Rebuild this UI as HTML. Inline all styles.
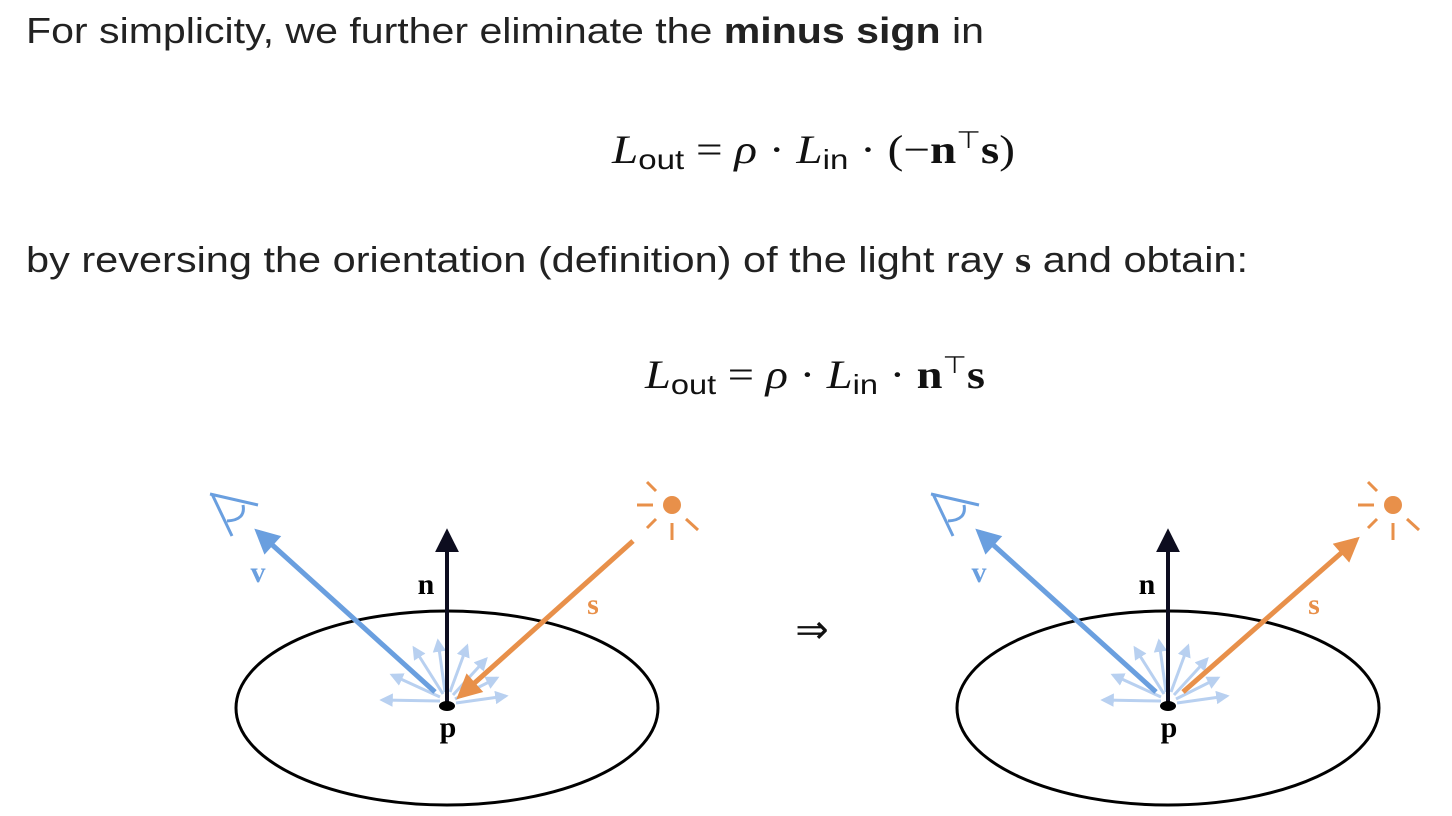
<!DOCTYPE html>
<html><head><meta charset="utf-8"><style>
html,body{margin:0;padding:0;background:#fff;}
svg{display:block;}
.t{font-family:"Liberation Sans",sans-serif;font-size:36px;fill:#222;}
.m{font-family:"Liberation Serif",serif;font-size:40px;fill:#111;}
.ms{font-family:"Liberation Sans",sans-serif;font-size:28px;fill:#111;}
.lb{font-family:"Liberation Serif",serif;font-weight:bold;font-size:30px;}
</style></head><body>
<svg width="1452" height="816" viewBox="0 0 1452 816">
<defs>
<marker id="ab" viewBox="0 0 10 10" refX="8" refY="5" markerWidth="5.5" markerHeight="5" orient="auto"><path d="M0,0 L10,5 L0,10 z" fill="#6a9fdf"/></marker>
<marker id="ao" viewBox="0 0 10 10" refX="8" refY="5" markerWidth="5.5" markerHeight="5" orient="auto"><path d="M0,0 L10,5 L0,10 z" fill="#e8904a"/></marker>
<marker id="ak" viewBox="0 0 10 10" refX="8" refY="5" markerWidth="6" markerHeight="6" orient="auto"><path d="M0,0 L10,5 L0,10 z" fill="#0d0d1f"/></marker>
<marker id="al" viewBox="0 0 10 10" refX="8" refY="5" markerWidth="4.5" markerHeight="4.5" orient="auto"><path d="M0,0 L10,5 L0,10 z" fill="#b8d0f0"/></marker>
</defs>
<text class="t" x="26" y="43" textLength="958" lengthAdjust="spacingAndGlyphs">For simplicity, we further eliminate the <tspan font-weight="bold">minus sign</tspan> in</text>
<g>
<text class="m" x="612" y="163" textLength="403" lengthAdjust="spacingAndGlyphs"><tspan font-style="italic">L</tspan><tspan class="ms" dy="6">out</tspan><tspan dy="-6"> = </tspan><tspan font-style="italic">ρ</tspan> · <tspan font-style="italic">L</tspan><tspan class="ms" dy="6">in</tspan><tspan dy="-6"> · (−</tspan><tspan font-weight="bold">n</tspan><tspan font-size="24" dy="-15">⊤</tspan><tspan font-weight="bold" dy="15">s</tspan>)</text>
</g>
<text class="t" x="26" y="272" textLength="1222" lengthAdjust="spacingAndGlyphs">by reversing the orientation (definition) of the light ray <tspan font-family="Liberation Serif" font-weight="bold">s</tspan> and obtain:</text>
<g>
<text class="m" x="645" y="388" textLength="340" lengthAdjust="spacingAndGlyphs"><tspan font-style="italic">L</tspan><tspan class="ms" dy="6">out</tspan><tspan dy="-6"> = </tspan><tspan font-style="italic">ρ</tspan> · <tspan font-style="italic">L</tspan><tspan class="ms" dy="6">in</tspan><tspan dy="-6"> · </tspan><tspan font-weight="bold">n</tspan><tspan font-size="24" dy="-15">⊤</tspan><tspan font-weight="bold" dy="15">s</tspan></text>
</g>
<text class="m" x="812" y="643" text-anchor="middle" font-size="32">⇒</text>

<g>
<ellipse cx="447" cy="708" rx="211" ry="97" fill="none" stroke="#000" stroke-width="3"/>
<g stroke="#b8d0f0" stroke-width="3">
<line x1="440" y1="701" x2="382" y2="700" marker-end="url(#al)"/>
<line x1="440" y1="697" x2="392" y2="675" marker-end="url(#al)"/>
<line x1="443" y1="694" x2="414" y2="648" marker-end="url(#al)"/>
<line x1="445" y1="692" x2="438" y2="641" marker-end="url(#al)"/>
<line x1="450" y1="692" x2="467" y2="646" marker-end="url(#al)"/>
<line x1="453" y1="695" x2="486" y2="659" marker-end="url(#al)"/>
<line x1="455" y1="699" x2="497" y2="678" marker-end="url(#al)"/>
<line x1="456" y1="703" x2="506" y2="696" marker-end="url(#al)"/>
</g>
<line x1="435" y1="692" x2="258" y2="532" stroke="#6a9fdf" stroke-width="5" marker-end="url(#ab)"/>
<path d="M212,494 L232,536 M210,494 L258,505 M227,521 Q246,520 243,505" fill="none" stroke="#6a9fdf" stroke-width="3"/>
<line x1="447" y1="706" x2="447" y2="533" stroke="#0d0d1f" stroke-width="4" marker-end="url(#ak)"/>
<ellipse cx="447" cy="706" rx="8" ry="5" fill="#000"/>
<line x1="633" y1="541" x2="460" y2="696" stroke="#e8904a" stroke-width="5" marker-end="url(#ao)"/>
<g stroke="#e8904a" stroke-width="3">
<circle cx="672" cy="505" r="9" fill="#e8904a" stroke="none"/>
<line x1="637" y1="505" x2="653" y2="505"/><line x1="647" y1="482" x2="656" y2="491"/>
<line x1="647" y1="528" x2="656" y2="519"/><line x1="672" y1="523" x2="672" y2="540"/>
<line x1="686" y1="519" x2="698" y2="530"/>
</g>
<text x="258" y="582" class="lb" fill="#6a9fdf" text-anchor="middle">v</text>
<text x="426" y="594" class="lb" fill="#000" text-anchor="middle">n</text>
<text x="593" y="614" class="lb" fill="#e8904a" text-anchor="middle">s</text>
<text x="448" y="737" class="lb" fill="#000" text-anchor="middle">p</text>
</g>

<g transform="translate(721,0)">
<ellipse cx="447" cy="708" rx="211" ry="97" fill="none" stroke="#000" stroke-width="3"/>
<g stroke="#b8d0f0" stroke-width="3">
<line x1="440" y1="701" x2="382" y2="700" marker-end="url(#al)"/>
<line x1="440" y1="697" x2="392" y2="675" marker-end="url(#al)"/>
<line x1="443" y1="694" x2="414" y2="648" marker-end="url(#al)"/>
<line x1="445" y1="692" x2="438" y2="641" marker-end="url(#al)"/>
<line x1="450" y1="692" x2="467" y2="646" marker-end="url(#al)"/>
<line x1="453" y1="695" x2="486" y2="659" marker-end="url(#al)"/>
<line x1="455" y1="699" x2="497" y2="678" marker-end="url(#al)"/>
<line x1="456" y1="703" x2="506" y2="696" marker-end="url(#al)"/>
</g>
<line x1="435" y1="692" x2="258" y2="532" stroke="#6a9fdf" stroke-width="5" marker-end="url(#ab)"/>
<path d="M212,494 L232,536 M210,494 L258,505 M227,521 Q246,520 243,505" fill="none" stroke="#6a9fdf" stroke-width="3"/>
<line x1="447" y1="706" x2="447" y2="533" stroke="#0d0d1f" stroke-width="4" marker-end="url(#ak)"/>
<ellipse cx="447" cy="706" rx="8" ry="5" fill="#000"/>
<line x1="462" y1="692" x2="635" y2="540" stroke="#e8904a" stroke-width="5" marker-end="url(#ao)"/>
<g stroke="#e8904a" stroke-width="3">
<circle cx="672" cy="505" r="9" fill="#e8904a" stroke="none"/>
<line x1="637" y1="505" x2="653" y2="505"/><line x1="647" y1="482" x2="656" y2="491"/>
<line x1="647" y1="528" x2="656" y2="519"/><line x1="672" y1="523" x2="672" y2="540"/>
<line x1="686" y1="519" x2="698" y2="530"/>
</g>
<text x="258" y="582" class="lb" fill="#6a9fdf" text-anchor="middle">v</text>
<text x="426" y="594" class="lb" fill="#000" text-anchor="middle">n</text>
<text x="593" y="614" class="lb" fill="#e8904a" text-anchor="middle">s</text>
<text x="448" y="737" class="lb" fill="#000" text-anchor="middle">p</text>
</g>
</svg>
</body></html>
